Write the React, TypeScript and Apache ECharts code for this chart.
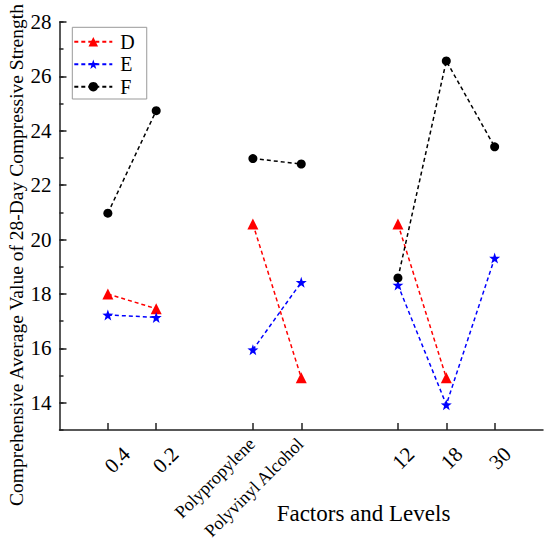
import React, { useEffect, useRef } from 'react';
import * as echarts from 'echarts';

// ---- data ----
const levels = ['0.4', '0.2', 'Polypropylene', 'Polyvinyl Alcohol', '12', '18', '30'];
const groupSizes = [2, 2, 3];
const dValues: (number | null)[] = [18.0, 17.46, 20.57, 14.92, 20.57, 14.92, null];
const eValues: (number | null)[] = [17.23, 17.14, 15.95, 18.43, 18.33, 13.93, 19.32];
const fValues: (number | null)[] = [20.97, 24.74, 22.98, 22.78, 18.59, 26.57, 23.41];
const seriesNames = ['D', 'E', 'F'];
const yTickLabels = [14, 16, 18, 20, 22, 24, 26, 28];
const yMin = 13;
const yMax = 28;
const yAxisTitle = 'Comprehensive Average Value of 28-Day Compressive Strength';
const xAxisTitle = 'Factors and Levels';

const FONT = 'Liberation Serif, Times New Roman, serif';
const STAR = 'path://M0,-10L2.35,-3.24L9.51,-3.09L3.8,1.24L5.88,8.09L0,4L-5.88,8.09L-3.8,1.24L-9.51,-3.09L-2.35,-3.24Z';

function buildCategories() {
  const cats: string[] = [''];
  let k = 0;
  let sp = ' ';
  groupSizes.forEach((n) => {
    for (let i = 0; i < n; i++) cats.push(levels[k++]);
    cats.push(sp);
    sp += ' ';
  });
  return cats;
}

function pad(values: (number | null)[]) {
  const out: (number | null)[] = [null];
  let k = 0;
  groupSizes.forEach((n) => {
    for (let i = 0; i < n; i++) out.push(values[k++]);
    out.push(null);
  });
  return out;
}

function labelFormatter(v: string) {
  if (v.trim() === '') return '';
  if (/^0\.\d+$/.test(v)) return `{n1|${v}}`;
  if (/^\d+$/.test(v)) return `{n2|${v}}`;
  return `{t|${v}}`;
}

export default function App() {
  const ref = useRef<HTMLDivElement>(null);
  useEffect(() => {
    if (!ref.current) return;
    const chart = echarts.init(ref.current, undefined, { renderer: 'svg' });
    const axisColor = '#222';
    const option: any = {
      animation: false,
      backgroundColor: '#fff',
      textStyle: { fontFamily: FONT },
      grid: { left: 59.5, right: 7, top: 22, bottom: 118, outerBoundsMode: 'none', containLabel: false },
      legend: {
        orient: 'vertical',
        left: 72.3,
        top: 27.3,
        padding: [4.4, 12, 2.3, 1],
        itemGap: 2.5,
        itemWidth: 38,
        itemHeight: 12,
        borderColor: '#999',
        borderWidth: 1,
        textStyle: { fontSize: 20, fontFamily: FONT, color: '#000', lineHeight: 20, padding: [0, 0, 0, 3] },
        data: seriesNames,
      },
      xAxis: {
        type: 'category',
        boundaryGap: false,
        data: buildCategories(),
        axisLine: { lineStyle: { color: axisColor, width: 1.5 } },
        axisTick: {
          inside: true,
          length: 7,
          lineStyle: { color: axisColor, width: 1.5 },
          interval: (_i: number, v: string) => v.trim() !== '',
        },
        axisLabel: {
          interval: 0,
          rotate: 45,
          margin: 2,
          color: '#000',
          fontFamily: FONT,
          fontSize: 18,
          formatter: labelFormatter,
          rich: {
            n1: { fontSize: 21, fontFamily: FONT, color: '#000', padding: [52.8, 0, 0, 0] },
            n2: { fontSize: 21, fontFamily: FONT, color: '#000', padding: [44.4, 4.2, 0, 0] },
            t: { fontSize: 18, fontFamily: FONT, color: '#000', padding: [11.3, 7, 0, 0] },
          },
        },
        splitLine: { show: false },
      },
      yAxis: [
        {
          type: 'value',
          min: yMin,
          max: yMax,
          interval: 1,
          axisLine: { show: true, lineStyle: { color: axisColor, width: 1.5 } },
          axisTick: { show: true, inside: true, length: 4, lineStyle: { color: axisColor, width: 1.5 } },
          axisLabel: {
            margin: 8,
            color: '#000',
            fontFamily: FONT,
            fontSize: 21,
            formatter: (v: number) => (yTickLabels.includes(v) ? String(v) : ''),
          },
          splitLine: { show: false },
        },
        {
          type: 'value',
          min: yMin,
          max: yMax,
          position: 'left',
          axisLine: { show: false },
          axisTick: {
            show: true,
            inside: true,
            length: 7,
            customValues: yTickLabels,
            lineStyle: { color: axisColor, width: 1.5 },
          },
          axisLabel: { show: false },
          splitLine: { show: false },
        },
      ],
      graphic: [
        {
          type: 'text',
          x: 16,
          y: 255,
          rotation: Math.PI / 2,
          style: { text: yAxisTitle, fontSize: 19.5, fontFamily: FONT, fill: '#000', align: 'center', verticalAlign: 'middle' },
        },
        {
          type: 'text',
          x: 363.5,
          y: 513,
          style: { text: xAxisTitle, fontSize: 23, fontFamily: FONT, fill: '#000', align: 'center', verticalAlign: 'middle' },
        },
      ],
      series: [
        {
          name: seriesNames[0],
          type: 'line',
          data: pad(dValues),
          symbol: 'triangle',
          symbolSize: 11,
          itemStyle: { color: '#ff0000' },
          lineStyle: { color: '#ff0000', width: 1.5, type: [4, 3] },
        },
        {
          name: seriesNames[1],
          type: 'line',
          data: pad(eValues),
          symbol: STAR,
          symbolSize: 11,
          itemStyle: { color: '#0000ff' },
          lineStyle: { color: '#0000ff', width: 1.5, type: [4, 3] },
        },
        {
          name: seriesNames[2],
          type: 'line',
          data: pad(fValues),
          symbol: 'circle',
          symbolSize: 9,
          itemStyle: { color: '#000' },
          lineStyle: { color: '#000', width: 1.5, type: [4, 3] },
        },
      ],
    };
    chart.setOption(option);
    return () => chart.dispose();
  }, []);
  return <div ref={ref} style={{ position: 'fixed', left: 0, top: 0, width: 550, height: 548 }} />;
}
